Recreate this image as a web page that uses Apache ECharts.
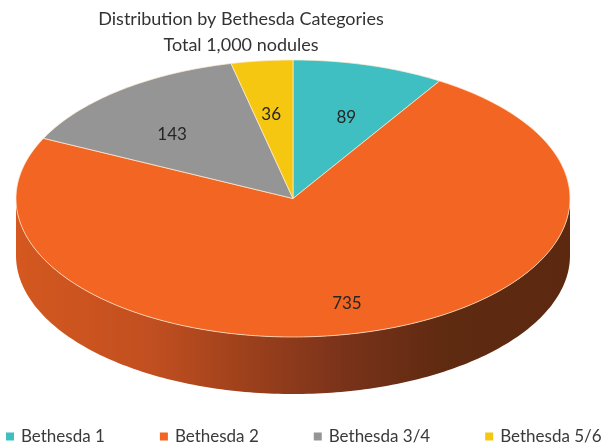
<!DOCTYPE html>
<html>
<head>
<meta charset="utf-8">
<script src="https://cdn.jsdelivr.net/npm/echarts@6/dist/echarts.min.js"></script>
<style>
html,body{margin:0;padding:0;background:#fff;}
#main{width:614px;height:447px;}
</style>
</head>
<body>
<div id="main"></div>
<script>
// ---- data ----
const categories = ['Bethesda 1', 'Bethesda 2', 'Bethesda 3/4', 'Bethesda 5/6'];
const values = [89, 735, 143, 36];
const titleLines = ['Distribution by Bethesda Categories', 'Total 1,000 nodules'];

// ---- style ----
const colors = ['#3FBFC1', '#F26522', '#959595', '#F6C710'];
const FONT = 'Lato, "Open Sans", sans-serif';
const CX = 293, CY = 198.5, RX = 277, RY = 138.5, DEPTH = 57;

const total = values.reduce((a, b) => a + b, 0);
const starts = [];
let acc = 0;
values.forEach(v => { starts.push(acc / total * Math.PI * 2); acc += v; });

function pt(t, dy) {
  return [CX + RX * Math.sin(t), CY - RY * Math.cos(t) + (dy || 0)];
}
function arc(a0, a1, dy) {
  const pts = [];
  const n = Math.max(2, Math.ceil(Math.abs(a1 - a0) / (Math.PI / 180)));
  for (let k = 0; k <= n; k++) pts.push(pt(a0 + (a1 - a0) * k / n, dy));
  return pts;
}

const wallFill = {
  type: 'linear', x: 17, y: 0, x2: 570, y2: 0, global: true,
  colorStops: [
    { offset: 0, color: '#D4581F' },
    { offset: 0.24, color: '#C24F20' },
    { offset: 0.42, color: '#9C401C' },
    { offset: 0.6, color: '#78321A' },
    { offset: 0.78, color: '#5E2A10' },
    { offset: 1, color: '#5C2910' }
  ]
};

function makeRender(i) {
  return function (params, api) {
    const a0 = starts[i];
    const a1 = a0 + values[i] / total * Math.PI * 2;
    const children = [];
    // front wall (visible between 90deg and 270deg)
    const w0 = Math.max(a0, Math.PI / 2), w1 = Math.min(a1, Math.PI * 1.5);
    if (w1 > w0) {
      const top = arc(w0, w1, 0);
      const bot = arc(w1, w0, DEPTH);
      children.push({
        type: 'polygon', z2: 1,
        shape: { points: top.concat(bot) },
        style: { fill: i === 1 ? wallFill : colors[i], stroke: null }
      });
    }
    // top face
    children.push({
      type: 'polygon', z2: 5,
      shape: { points: [[CX, CY]].concat(arc(a0, a1, 0)) },
      style: { fill: colors[i], stroke: 'rgba(255,236,210,0.9)', lineWidth: 0.8 }
    });
    // label
    const mid = (a0 + a1) / 2;
    const lp = pt(mid);
    const f = 0.7;
    children.push({
      type: 'text', z2: 10,
      x: CX + (lp[0] - CX) * f,
      y: CY + (lp[1] - CY) * f + 12,
      style: {
        text: String(values[i]), fill: '#262626', fontSize: 17, fontFamily: FONT,
        align: 'center', verticalAlign: 'middle'
      }
    });
    return { type: 'group', children: children };
  };
}

const series = categories.map((name, i) => ({
  type: 'custom',
  name: name,
  coordinateSystem: 'none',
  itemStyle: { color: colors[i] },
  data: [[values[i]]],
  renderItem: makeRender(i),
  silent: true
}));

const chart = echarts.init(document.getElementById('main'), null, { renderer: 'canvas' });
chart.setOption({
  animation: false,
  backgroundColor: '#fff',
  title: {
    text: titleLines.join('\n'),
    left: 236, top: 1, textAlign: 'center',
    textStyle: { fontFamily: FONT, fontSize: 18, fontWeight: 'normal', color: '#333', lineHeight: 26 }
  },
  legend: {
    data: categories,
    left: 6, top: 428, padding: 0,
    icon: 'rect', itemWidth: 8, itemHeight: 8, itemGap: 55,
    textStyle: { fontFamily: FONT, fontSize: 17, color: '#3a3a3a', padding: [0, 0, 0, 2] }
  },
  series: series
});
</script>
</body>
</html>
